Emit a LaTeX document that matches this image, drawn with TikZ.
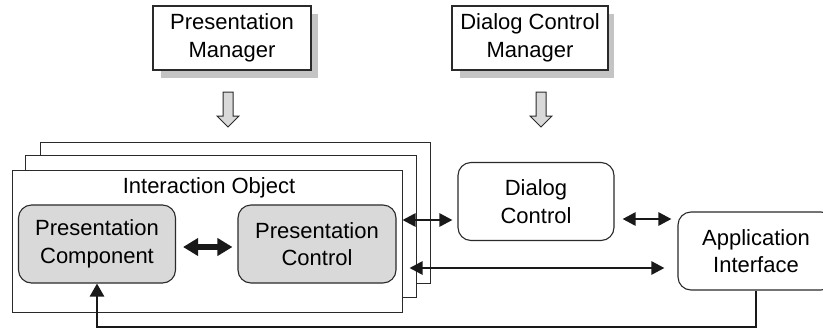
\documentclass[tikz,border=0pt]{standalone}
\usepackage{fontspec}
\setmainfont{Liberation Sans}
\usetikzlibrary{arrows.meta,calc}
\definecolor{shadowgrey}{HTML}{C4C4C4}
\definecolor{compfill}{HTML}{D9D9D9}
\definecolor{edge}{HTML}{2A2A2A}
\begin{document}
\begin{tikzpicture}[x=1pt,y=-1pt,
  lbl/.style={font=\fontsize{22}{27.5}\selectfont, align=center, inner sep=0pt},
  mgrbox/.style={lbl, draw=edge, line width=1.1pt, fill=white,
    minimum width=158pt, minimum height=64pt},
  layer/.style={draw=edge, line width=1pt, fill=white},
  compbox/.style={lbl, draw=edge, line width=1.1pt, fill=compfill,
    rounded corners=13pt, minimum width=157pt, minimum height=78pt},
  ctrlbox/.style={lbl, draw=edge, line width=1.1pt, fill=white,
    rounded corners=13pt, minimum width=156pt, minimum height=78pt},
  link/.style={line width=2.6pt, draw=black!90,
    {Triangle[length=13pt,width=13pt]}-{Triangle[length=13pt,width=13pt]}},
  fatlink/.style={line width=5.5pt, draw=black!90,
    {Triangle[length=15pt,width=17pt]}-{Triangle[length=15pt,width=17pt]}},
  feedback/.style={line width=2.7pt, draw=black!90, line join=miter,
    -{Triangle[length=13pt,width=14pt]}},
  downarrow/.pic={
    \draw[draw=edge, line width=1pt, fill=compfill, line join=miter]
      (-5,0) -- (5,0) -- (5,24) -- (11,24) -- (0,35) -- (-11,24) -- (-5,24) -- cycle;
  }
]
\useasboundingbox (0,0) rectangle (823,330);
\clip (0,0) rectangle (823,330);

% managers with drop shadows
\fill[shadowgrey] (161,14) rectangle (318,78);
\node[mgrbox] (pm) at (232,38) {Presentation\\Manager};
\fill[shadowgrey] (460,14) rectangle (614,78);
\node[mgrbox, minimum width=156pt] (dcm) at (530,38) {Dialog Control\\Manager};

% hollow arrows from the managers
\pic at (228,92) {downarrow};
\pic at (541,92) {downarrow};

% stacked interaction objects
\node[layer, minimum width=390pt, minimum height=141pt] (iob) at (235,212.5) {};
\node[layer, minimum width=391pt, minimum height=142pt] (iom) at (220.5,226) {};
\node[layer, minimum width=390pt, minimum height=142pt] (io) at (207,241) {};
\node[lbl] (iot) at (209,188) {Interaction Object};

\node[compbox] (pc) at (97,244) {Presentation\\Component};
\node[compbox, minimum width=158pt] (pctl) at (317,244) {Presentation\\Control};

\node[ctrlbox] (dc) at (536,201.5) {Dialog\\Control};
\node[ctrlbox] (ai) at (756,251) {Application\\Interface};

% connectors
\coordinate (r1) at (0,220);
\coordinate (r2) at (0,268);
\coordinate (fb) at (0,327);

\draw[fatlink] ($(pc.east)+(7,3)$) -- ($(pctl.west)+(-5,3)$);
\draw[link] (io.east |- r1) -- ($(dc.west |- r1)+(-5,0)$);
\draw[link] ($(dc.east |- r1)+(8,-1)$) -- ($(ai.west |- r1)+(-6,-1)$);
\draw[link] ($(io.east |- r2)+(7,0)$) -- ($(ai.west |- r2)+(-13,0)$);
\draw[feedback] (ai.south) -- (ai.south |- fb) -| (pc.south);
\end{tikzpicture}
\end{document}
